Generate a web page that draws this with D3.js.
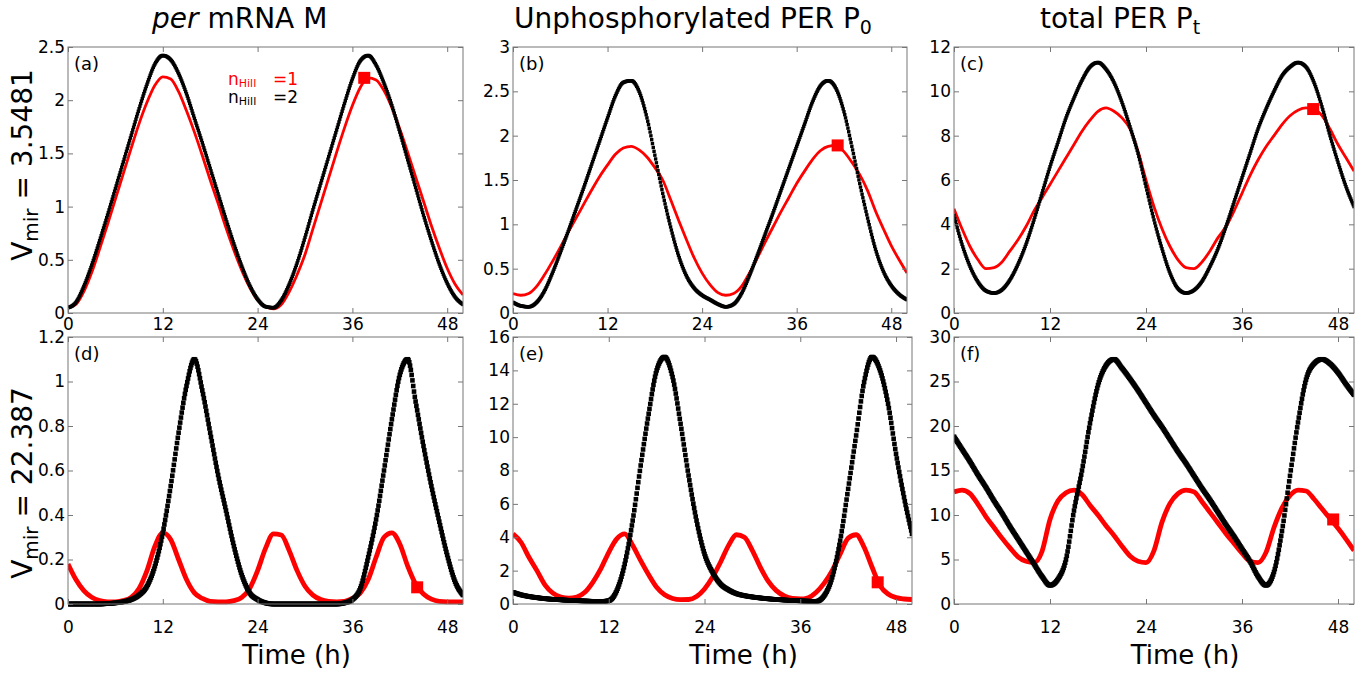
<!DOCTYPE html>
<html>
<head>
<meta charset="utf-8">
<script src="https://cdnjs.cloudflare.com/ajax/libs/d3/7.8.5/d3.min.js"></script>
<style>
  body { margin: 0; background: #fff; }
  svg text { font-family: "DejaVu Sans", sans-serif; fill: #000; }
  .tick text { font-size: 17px; font-family: "DejaVu Sans", sans-serif; fill: #000; }
</style>
</head>
<body>
<div id="chart"></div>
<script>
// time grid (h)
const hours = [0,1,2,3,4,5,6,7,8,9,10,11,12,13,14,15,16,17,18,19,20,21,22,23,24,25,
  26,27,28,29,30,31,32,33,34,35,36,37,38,39,40,41,42,43,44,45,46,47,48,49,50];
const xTicks = [0, 12, 24, 36, 48];

// row 1: Vmir = 3.5481
const mRed1 = [0.05,0.08,0.2,0.38,0.6,0.83,1.07,1.31,1.55,1.78,1.98,2.14,2.22,
  2.2,2.08,1.9,1.7,1.48,1.25,1.03,0.8,0.59,0.4,0.24,0.12,0.06,
  0.04,0.08,0.2,0.36,0.55,0.79,1.03,1.27,1.51,1.74,1.95,2.12,2.21,
  2.19,2.09,1.93,1.73,1.51,1.28,1.05,0.82,0.61,0.42,0.27,0.17];
const mBlack1 = [0.05,0.1,0.25,0.45,0.68,0.92,1.17,1.42,1.67,1.92,2.15,2.34,2.42,
  2.38,2.25,2.06,1.83,1.6,1.36,1.12,0.88,0.65,0.44,0.26,0.13,0.06,
  0.05,0.12,0.27,0.47,0.71,0.97,1.22,1.47,1.72,1.97,2.2,2.37,2.42,
  2.33,2.16,1.95,1.7,1.44,1.18,0.92,0.68,0.46,0.28,0.15,0.08];
const p0Red1 = [0.22,0.2,0.22,0.3,0.43,0.58,0.74,0.91,1.07,1.23,1.39,1.54,1.67,
  1.79,1.86,1.88,1.84,1.76,1.64,1.5,1.28,1.05,0.83,0.62,0.45,0.32,
  0.23,0.2,0.22,0.3,0.45,0.62,0.8,0.97,1.14,1.3,1.46,1.6,1.73,
  1.83,1.88,1.89,1.82,1.7,1.56,1.38,1.15,0.95,0.76,0.6,0.45];
const p0Black1 = [0.12,0.08,0.07,0.12,0.25,0.45,0.68,0.92,1.17,1.42,1.68,1.94,2.2,
  2.45,2.6,2.62,2.5,2.2,1.78,1.35,0.97,0.65,0.42,0.28,0.2,0.15,
  0.1,0.07,0.1,0.22,0.42,0.65,0.89,1.13,1.38,1.63,1.88,2.13,2.38,
  2.56,2.62,2.53,2.27,1.88,1.46,1.07,0.72,0.47,0.31,0.21,0.15];
const ptRed1 = [4.7,3.8,3.0,2.4,2.0,2.05,2.3,2.8,3.3,3.9,4.6,5.2,5.8,
  6.4,7.0,7.6,8.2,8.7,9.1,9.25,9.1,8.8,8.3,7.3,6.0,4.8,
  3.8,3.0,2.4,2.05,2.0,2.3,2.8,3.4,3.9,4.6,5.4,6.2,6.9,
  7.5,8.0,8.5,8.9,9.15,9.25,9.2,8.9,8.3,7.6,7.0,6.4];
const ptBlack1 = [4.4,3.1,2.1,1.4,1.0,0.9,1.05,1.5,2.2,3.1,4.2,5.4,6.6,
  7.7,8.8,9.7,10.5,11.1,11.3,11.0,10.4,9.5,8.4,7.2,5.7,4.2,
  2.9,1.8,1.1,0.9,1.03,1.43,2.1,2.9,3.9,5.0,6.1,7.2,8.3,
  9.2,10.0,10.7,11.1,11.3,11.1,10.4,9.3,8.0,6.8,5.7,4.8];

// row 2: Vmir = 22.387
const mRed2 = [0.18,0.11,0.06,0.03,0.015,0.01,0.01,0.015,0.03,0.07,0.15,0.26,0.32,
  0.29,0.2,0.11,0.05,0.025,0.012,0.01,0.01,0.015,0.03,0.07,0.15,0.25,
  0.315,0.31,0.24,0.15,0.08,0.04,0.02,0.012,0.01,0.012,0.025,0.05,0.11,
  0.21,0.3,0.32,0.27,0.17,0.09,0.045,0.022,0.012,0.01,0.01,0.01];
const mBlack2 = [0,0,0,0,0,0.002,0.005,0.01,0.02,0.04,0.08,0.17,0.32,
  0.53,0.77,0.98,1.1,0.96,0.77,0.58,0.42,0.26,0.13,0.05,0.02,0.005,
  0,0,0,0,0,0,0,0,0,0.005,0.02,0.07,0.21,
  0.38,0.6,0.83,1.03,1.1,0.91,0.71,0.53,0.37,0.22,0.1,0.04];
const p0Red2 = [4.2,3.7,2.8,2.0,1.15,0.65,0.42,0.35,0.42,0.7,1.3,2.1,3.1,
  3.9,4.2,3.5,2.6,1.75,1.0,0.55,0.33,0.26,0.27,0.45,0.9,1.6,
  2.5,3.5,4.15,4.0,3.2,2.2,1.35,0.8,0.48,0.33,0.3,0.38,0.7,
  1.25,2.0,3.0,3.95,4.15,3.4,2.2,1.1,0.6,0.38,0.3,0.27];
const p0Black2 = [0.7,0.55,0.45,0.38,0.32,0.28,0.25,0.22,0.2,0.18,0.16,0.15,0.2,
  0.8,2.4,5.0,8.3,11.4,14.0,14.8,13.6,10.8,7.7,5.0,3.0,1.9,
  1.2,0.85,0.62,0.5,0.42,0.36,0.31,0.27,0.24,0.21,0.19,0.17,0.16,
  0.5,1.6,3.8,6.9,10.1,13.3,14.8,14.0,12.0,9.0,6.4,4.2];
const ptRed2 = [12.6,12.8,12.4,11.2,9.8,8.6,7.4,6.3,5.3,4.8,4.65,5.9,9.5,
  11.6,12.5,12.8,12.3,11.1,10.0,8.8,7.7,6.5,5.4,4.8,4.65,6.0,
  9.2,11.3,12.4,12.8,12.6,11.5,10.3,9.1,7.9,6.8,5.7,4.8,4.65,
  5.8,8.6,10.8,12.2,12.8,12.7,11.8,10.7,9.6,8.5,7.3,6.0];
const ptBlack2 = [18.8,17.4,16.0,14.5,13.1,11.6,10.2,8.7,7.3,5.9,4.5,3.1,2.1,
  2.8,5.0,10.5,15.0,20.3,24.6,26.8,27.5,26.5,25.3,24.0,22.6,21.2,
  19.9,18.5,17.1,15.8,14.4,13.0,11.7,10.3,8.9,7.6,6.2,4.8,3.1,
  2.1,3.6,8.2,14.4,20.4,25.2,27.0,27.5,27.0,26.0,24.7,23.5];

// red square markers [t, value]
const squareMarks = [[37.5, 2.21], [41.2, 1.89], [44.9, 9.2], [44.2, 0.075], [45.7, 1.3], [47.4, 9.5]];

const yTicksM1 = [0, 0.5, 1, 1.5, 2, 2.5];
const yTicksP01 = [0, 0.5, 1, 1.5, 2, 2.5, 3];
const yTicksPt1 = [0, 2, 4, 6, 8, 10, 12];
const yTicksM2 = [0, 0.2, 0.4, 0.6, 0.8, 1, 1.2];
const yTicksP02 = [0, 2, 4, 6, 8, 10, 12, 14, 16];
const yTicksPt2 = [0, 5, 10, 15, 20, 25, 30];

const panelLabels = ['(a)', '(b)', '(c)', '(d)', '(e)', '(f)'];
const vmirValues = ['3.5481', '22.387'];

const RED = '#ff0000';
const W = 1364, H = 675;

// plot boxes
const boxes = [
  { x: [68, 463], y: [47, 313] }, { x: [513, 907], y: [47, 313] }, { x: [954, 1354], y: [47, 313] },
  { x: [68, 463], y: [337, 604] }, { x: [513, 912], y: [337, 604] }, { x: [954, 1354], y: [337, 604] }
];

const panels = [
  { red: mRed1, black: mBlack1, ticks: yTicksM1 },
  { red: p0Red1, black: p0Black1, ticks: yTicksP01 },
  { red: ptRed1, black: ptBlack1, ticks: yTicksPt1 },
  { red: mRed2, black: mBlack2, ticks: yTicksM2 },
  { red: p0Red2, black: p0Black2, ticks: yTicksP02 },
  { red: ptRed2, black: ptBlack2, ticks: yTicksPt2 }
];

const svg = d3.select('#chart').append('svg')
  .attr('width', W).attr('height', H)
  .attr('viewBox', `0 0 ${W} ${H}`);

const defs = svg.append('defs');
const fmt = d3.format('~g');

// black series are drawn as dense square markers (every 0.1 h along the curve),
// which leaves gaps on the steep parts like the original plot
function markerSeries(parent, data, line, x, size) {
  const tmp = parent.append('path').datum(data).attr('d', line)
    .attr('fill', 'none').attr('stroke', 'none');
  const node = tmp.node();
  const L = node.getTotalLength();
  const pts = [];
  for (let s = 0; s <= L; s += 0.3) {
    const p = node.getPointAtLength(s);
    pts.push([p.x, p.y]);
  }
  tmp.remove();
  const bis = d3.bisector(d => d[0]).left;
  const samples = d3.range(0, 50.001, 0.1).map(t => {
    const px = x(t);
    let k = Math.max(1, Math.min(pts.length - 1, bis(pts, px)));
    const a = pts[k - 1], b = pts[k];
    const f = b[0] === a[0] ? 0 : (px - a[0]) / (b[0] - a[0]);
    return [px, a[1] + f * (b[1] - a[1])];
  });
  parent.append('g').selectAll('rect').data(samples).join('rect')
    .attr('x', d => d[0] - size / 2).attr('y', d => d[1] - size / 2)
    .attr('width', size).attr('height', size)
    .attr('fill', '#000');
}

panels.forEach((p, i) => {
  const box = boxes[i];
  const row = i < 3 ? 0 : 1;
  const x = d3.scaleLinear().domain([0, 50]).range(box.x);
  const y = d3.scaleLinear().domain([0, d3.max(p.ticks)]).range([box.y[1], box.y[0]]);
  const g = svg.append('g');

  defs.append('clipPath').attr('id', 'clip' + i)
    .append('rect')
    .attr('x', box.x[0]).attr('y', box.y[0] - 3)
    .attr('width', box.x[1] - box.x[0]).attr('height', box.y[1] - box.y[0] + 6);

  const line = d3.line()
    .x((d, k) => x(hours[k]))
    .y(d => y(d))
    .curve(d3.curveMonotoneX);

  const plot = g.append('g').attr('clip-path', `url(#clip${i})`);
  plot.append('path').datum(p.red)
    .attr('d', line).attr('fill', 'none')
    .attr('stroke', RED).attr('stroke-width', row ? 4.8 : 2.8)
    .attr('stroke-linejoin', 'round');
  markerSeries(plot, p.black, line, x, row ? 4.6 : 3.4);

  const m = squareMarks[i];
  plot.append('rect')
    .attr('x', x(m[0]) - 6).attr('y', y(m[1]) - 6)
    .attr('width', 12).attr('height', 12)
    .attr('fill', RED);

  // axes with inward ticks on all four sides
  const axB = g.append('g').attr('transform', `translate(0,${box.y[1]})`)
    .call(d3.axisBottom(x).tickValues(xTicks).tickSize(-5).tickPadding(row ? 17 : 5).tickFormat(fmt));
  const axT = g.append('g').attr('transform', `translate(0,${box.y[0]})`)
    .call(d3.axisTop(x).tickValues(xTicks).tickSize(-5).tickFormat(''));
  const axL = g.append('g').attr('transform', `translate(${box.x[0]},0)`)
    .call(d3.axisLeft(y).tickValues(p.ticks).tickSize(-5).tickPadding(3).tickFormat(fmt));
  const axR = g.append('g').attr('transform', `translate(${box.x[1]},0)`)
    .call(d3.axisRight(y).tickValues(p.ticks).tickSize(-5).tickFormat(''));
  [axB, axT, axL, axR].forEach(a => {
    a.attr('color', '#777');
    a.select('.domain').remove();
  });

  g.append('rect')
    .attr('x', box.x[0]).attr('y', box.y[0])
    .attr('width', box.x[1] - box.x[0]).attr('height', box.y[1] - box.y[0])
    .attr('fill', 'none').attr('stroke', '#777').attr('stroke-width', 1);

  g.append('text')
    .attr('x', box.x[0] + 6).attr('y', box.y[0] + 23)
    .attr('font-size', 18)
    .text(panelLabels[i]);

  if (row === 1) {
    g.append('text')
      .attr('x', (box.x[0] + box.x[1]) / 2 + 31).attr('y', 664)
      .attr('text-anchor', 'middle')
      .attr('font-size', 26)
      .text('Time (h)');
  }
});

// legend in panel (a)
const legend = svg.append('g');
[['=1', RED, 85], ['=2', '#000', 103]].forEach(([txt, col, yy]) => {
  const t = legend.append('text').attr('y', yy).style('fill', col).attr('font-size', 17);
  t.append('tspan').attr('x', 228).text('n');
  t.append('tspan').attr('dy', 2).attr('font-size', 11).text('Hill');
  t.append('tspan').attr('x', 273).attr('dy', -2).text(txt);
});

// column titles
const titles = svg.append('g').attr('font-size', 28);
const t1 = titles.append('text').attr('x', 152).attr('y', 28);
t1.append('tspan').attr('font-style', 'italic').text('per');
t1.append('tspan').text(' mRNA M');
const t2 = titles.append('text').attr('x', 514).attr('y', 28);
t2.append('tspan').text('Unphosphorylated PER P');
t2.append('tspan').attr('font-size', 19).attr('dy', 6).text('0');
const t3 = titles.append('text').attr('x', 1040).attr('y', 28);
t3.append('tspan').text('total PER P');
t3.append('tspan').attr('font-size', 19).attr('dy', 6).text('t');

// row labels
[[165, vmirValues[0]], [483, vmirValues[1]]].forEach(([cy, val]) => {
  const t = svg.append('text')
    .attr('transform', `translate(32,${cy}) rotate(-90)`)
    .attr('text-anchor', 'middle')
    .attr('font-size', 28);
  t.append('tspan').text('V');
  t.append('tspan').attr('font-size', 20).attr('dy', 6).text('mir');
  t.append('tspan').attr('dy', -6).text(' = ' + val);
});
</script>
</body>
</html>
